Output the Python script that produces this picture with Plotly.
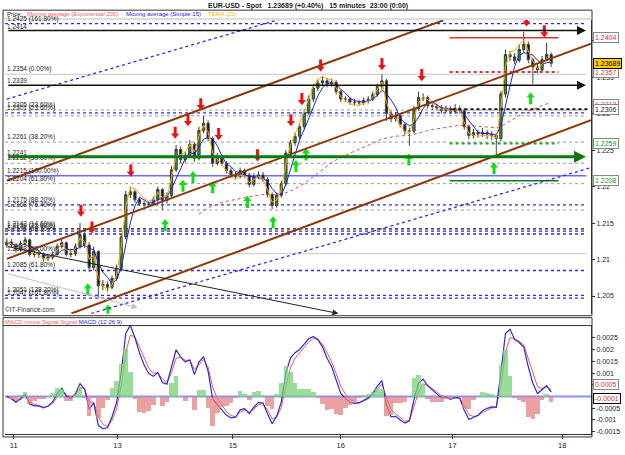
import numpy as np
import pandas as pd
import plotly.graph_objects as go

# ---------------- data ----------------
# hourly bars (hours since chart start), EUR-USD 15-minute chart read at hourly resolution
close = [1.2124, 1.2120, 1.2114, 1.2122, 1.2127, 1.2107, 1.2108, 1.2107, 1.2101, 1.2103,
         1.2107, 1.2118, 1.2123, 1.2107, 1.2108, 1.2118, 1.2134, 1.2120, 1.2089, 1.2111,
         1.2064, 1.2066, 1.2062, 1.2074, 1.2088, 1.2131, 1.2189, 1.2193, 1.2182, 1.2177,
         1.2176, 1.2176, 1.2182, 1.2196, 1.2181, 1.2188, 1.2223, 1.2251, 1.2237, 1.2243,
         1.2258, 1.2239, 1.2277, 1.2287, 1.2266, 1.2232, 1.2239, 1.2232, 1.2222, 1.2216,
         1.2214, 1.2222, 1.2216, 1.2203, 1.2214, 1.2216, 1.2210, 1.2189, 1.2174, 1.2188,
         1.2204, 1.2246, 1.2260, 1.2269, 1.2282, 1.2301, 1.2320, 1.2335, 1.2342, 1.2345,
         1.2341, 1.2343, 1.2330, 1.2320, 1.2320, 1.2316, 1.2315, 1.2315, 1.2318, 1.2320,
         1.2326, 1.2337, 1.2345, 1.2300, 1.2293, 1.2297, 1.2285, 1.2276, 1.2276, 1.2307,
         1.2322, 1.2322, 1.2311, 1.2310, 1.2308, 1.2304, 1.2307, 1.2303, 1.2307, 1.2304,
         1.2282, 1.2270, 1.2274, 1.2272, 1.2274, 1.2272, 1.2270, 1.2266, 1.2327, 1.2381,
         1.2378, 1.2373, 1.2388, 1.2395, 1.2374, 1.2364, 1.2360, 1.2374, 1.2381, 1.2369]
high = [1.2129, 1.2128, 1.2123, 1.2126, 1.2131, 1.2129, 1.2113, 1.2112, 1.2110, 1.2107,
        1.2111, 1.2122, 1.2128, 1.2125, 1.2113, 1.2122, 1.2150, 1.2138, 1.2124, 1.2118,
        1.2113, 1.2072, 1.2070, 1.2078, 1.2093, 1.2135, 1.2194, 1.2200, 1.2196, 1.2186,
        1.2181, 1.2180, 1.2186, 1.2200, 1.2198, 1.2192, 1.2228, 1.2257, 1.2255, 1.2248,
        1.2264, 1.2261, 1.2282, 1.2297, 1.2291, 1.2269, 1.2246, 1.2243, 1.2235, 1.2226,
        1.2220, 1.2226, 1.2225, 1.2219, 1.2218, 1.2221, 1.2220, 1.2213, 1.2192, 1.2192,
        1.2208, 1.2250, 1.2264, 1.2274, 1.2287, 1.2306, 1.2325, 1.2340, 1.2347, 1.2351,
        1.2349, 1.2348, 1.2346, 1.2333, 1.2324, 1.2323, 1.2320, 1.2319, 1.2322, 1.2324,
        1.2330, 1.2341, 1.2354, 1.2348, 1.2304, 1.2302, 1.2300, 1.2288, 1.2281, 1.2311,
        1.2330, 1.2328, 1.2325, 1.2315, 1.2314, 1.2312, 1.2311, 1.2310, 1.2313, 1.2311,
        1.2307, 1.2285, 1.2279, 1.2278, 1.2280, 1.2278, 1.2276, 1.2274, 1.2331, 1.2388,
        1.2386, 1.2383, 1.2395, 1.2412, 1.2399, 1.2377, 1.2368, 1.2379, 1.2397, 1.2384]
low = [1.2116, 1.2116, 1.2110, 1.2111, 1.2119, 1.2104, 1.2103, 1.2102, 1.2097, 1.2098,
       1.2100, 1.2105, 1.2115, 1.2104, 1.2103, 1.2105, 1.2115, 1.2116, 1.2083, 1.2085,
       1.2047, 1.2058, 1.2056, 1.2059, 1.2071, 1.2085, 1.2128, 1.2184, 1.2178, 1.2173,
       1.2172, 1.2172, 1.2173, 1.2179, 1.2168, 1.2177, 1.2185, 1.2220, 1.2232, 1.2233,
       1.2240, 1.2234, 1.2236, 1.2273, 1.2262, 1.2227, 1.2229, 1.2228, 1.2218, 1.2212,
       1.2210, 1.2211, 1.2212, 1.2199, 1.2200, 1.2210, 1.2206, 1.2185, 1.2169, 1.2171,
       1.2185, 1.2201, 1.2242, 1.2256, 1.2265, 1.2278, 1.2298, 1.2316, 1.2331, 1.2338,
       1.2336, 1.2337, 1.2326, 1.2316, 1.2316, 1.2312, 1.2311, 1.2311, 1.2312, 1.2314,
       1.2317, 1.2323, 1.2333, 1.2290, 1.2288, 1.2289, 1.2281, 1.2271, 1.2256, 1.2273,
       1.2304, 1.2317, 1.2307, 1.2305, 1.2304, 1.2300, 1.2301, 1.2299, 1.2300, 1.2300,
       1.2278, 1.2265, 1.2266, 1.2267, 1.2268, 1.2265, 1.2264, 1.2242, 1.2262, 1.2322,
       1.2372, 1.2368, 1.2370, 1.2384, 1.2369, 1.2341, 1.2355, 1.2357, 1.2372, 1.2364]
first_open = 1.2120
hours = list(range(len(close)))

day_labels = ['11', '13', '15', '16', '17', '18']
day_hours = [1.5, 24.2, 49.4, 73.0, 97.4, 121.4]

price_ticks = [1.205, 1.21, 1.215, 1.22, 1.225, 1.23, 1.235, 1.24]
price_tick_text = ['1.205', '1.21', '1.215', '1.22', '1.225', '1.23', '1.235', '1.24']
macd_ticks = [-0.0015, -0.001, -0.0005, 0.0005, 0.001, 0.0015, 0.002, 0.0025]
macd_tick_text = ['-0.0015', '-0.001', '-0.0005', '0.0005', '0.001', '0.0015', '0.002', '0.0025']

# Fibonacci / level lines (price, label)
fib_prices = [1.24235, 1.2354, 1.2305, 1.2301, 1.2297, 1.2261, 1.2232, 1.2215, 1.2204,
              1.2175, 1.2168, 1.2142, 1.2139, 1.2135, 1.2108, 1.2085, 1.2051, 1.2047]
fib_labels = ['1.2425 (161.80%)', '1.2354 (0.00%)', '1.2305 (23.60%)', '1.2301 (23.60%)', '',
              '1.2261 (38.20%)', '1.2232 (50.00%)', '1.2215 (100.00%)', '1.2204 (61.80%)',
              '1.2175 (88.20%)', '1.2168 (76.40%)', '1.2142 (14.60%)', '1.2139 (23.60%)',
              '1.2135 (38.20%)', '1.2108 (50.00%)', '1.2085 (61.80%)', '1.2051 (138.20%)',
              '1.2047 (161.80%)']
fib_kind = ['bluedot', 'greysolid', 'greydot', 'bluedot', 'greydot', 'greydot', 'greydot',
            'bluesolid', 'greydot', 'bluedot', 'greydot', 'blackdot', 'bluedot', 'bluedot',
            'greysolid', 'bluedot', 'bluedot', 'bluedot']

# arrowed horizontal levels
arrow_prices = [1.2414, 1.2339, 1.2241]
arrow_labels = ['1.2414', '1.2339', '1.2241']

# short right-hand levels (start hour, end hour, price)
seg_t0 = [96.8, 96.8, 97.4, 96.8, 96.8]
seg_t1 = [120.6, 120.6, 127.0, 120.6, 120.6]
seg_p = [1.2404, 1.2357, 1.2306, 1.2259, 1.2208]

# trend lines (t0, p0, t1, p1)
trend_t0 = [0.0, 18.4, 0.0, 0.0, 14.1]
trend_p0 = [1.2320, 1.2026, 1.2208, 1.2101, 1.2026]
trend_t1 = [60.0, 127.7, 95.4, 127.7, 127.7]
trend_p1 = [1.2430, 1.2226, 1.2428, 1.2396, 1.2291]
trend_kind = ['bluedot', 'bluedot', 'brown', 'brown', 'brown']

diag_t0 = [0.0, 0.0]
diag_p0 = [1.2118, 1.2081]
diag_t1 = [72.5, 28.6]
diag_p1 = [1.2026, 1.2034]

# signal arrows (time, price of arrow tip)
sell_t = [16.2, 18.6, 27.1, 36.8, 39.6, 42.4, 46.3, 54.8, 62.1, 64.5, 68.6, 82.0, 90.7, 113.6, 117.5]
sell_p = [1.2160, 1.2137, 1.2215, 1.2267, 1.2284, 1.2306, 1.2265, 1.2236, 1.2284, 1.2313,
          1.2359, 1.2361, 1.2346, 1.2421, 1.2406]
buy_t = [17.7, 22.1, 34.6, 38.5, 40.7, 45.0, 52.6, 58.2, 63.2, 65.4, 87.9, 106.5, 114.5]
buy_p = [1.2066, 1.2037, 1.2154, 1.2208, 1.2220, 1.2206, 1.2186, 1.2158, 1.2235, 1.2251,
         1.2244, 1.2232, 1.2328]

box_prices = [1.2404, 1.2357, 1.2313, 1.2306, 1.2259, 1.2208, 1.23689]
box_texts = ['1.2404', '1.2357', '1.2313', '1.2306', '1.2259', '1.2208', '1.23689']

# ---------------- indicators ----------------
s = pd.Series(close)
sma15 = s.rolling(4, min_periods=1).mean()
e1 = s.ewm(span=5, adjust=False).mean()
e2 = e1.ewm(span=5, adjust=False).mean()
e3 = e2.ewm(span=5, adjust=False).mean()
tema = 3 * e1 - 3 * e2 + e3
ema200 = s.ewm(span=50, adjust=False).mean()
macd = s.ewm(span=3, adjust=False).mean() - s.ewm(span=6.5, adjust=False).mean()
signal = macd.ewm(span=2.15, adjust=False).mean()
hist = macd - signal
opens = [first_open] + close[:-1]

# ---------------- figure ----------------
H, W = 455, 625
MT, MB = 20, 15
PH = H - MT - MB
PPX = 7400.0  # price-axis pixels per price unit (used only for arrow glyph offsets)


def py(ypx):
    return (H - MB - ypx) / PH


def px(xpx):
    return (xpx - 5) / 590


fig = go.Figure()

styles = {
    'bluedot': dict(color='#2a2aee', width=1.3, dash='dot'),
    'greydot': dict(color='#9a9a9a', width=1, dash='dot'),
    'blackdot': dict(color='#111111', width=1.3, dash='dot'),
    'greysolid': dict(color='#c8c8c8', width=1, dash='solid'),
    'bluesolid': dict(color='#6a6aff', width=1.5, dash='solid'),
    'brown': dict(color='#8b3a0e', width=2, dash='solid'),
}

shapes = []
for p, k in zip(fib_prices, fib_kind):
    shapes.append(dict(type='line', xref='paper', yref='y', x0=0, x1=0.992, y0=p, y1=p,
                       line=styles[k], layer='below'))

seg_styles = [dict(color='#e03030', width=1.5), dict(color='#e03030', width=2, dash='dot'),
              dict(color='#111111', width=2, dash='dot'), dict(color='#2a9a2a', width=2, dash='dot'),
              dict(color='#117711', width=1.5)]
for a, b, p, st in zip(seg_t0, seg_t1, seg_p, seg_styles):
    shapes.append(dict(type='line', xref='x', yref='y', x0=a, x1=b, y0=p, y1=p, line=st))

for a, pa, b, pb, k in zip(trend_t0, trend_p0, trend_t1, trend_p1, trend_kind):
    shapes.append(dict(type='line', xref='x', yref='y', x0=a, x1=b, y0=pa, y1=pb, line=styles[k]))

# MACD zero line
shapes.append(dict(type='line', xref='paper', yref='y2', x0=0, x1=1, y0=0, y1=0,
                   line=dict(color='#8f8fff', width=2), layer='below'))

# frames
shapes += [
    dict(type='rect', xref='paper', yref='paper', x0=px(3), x1=px(596), y0=py(320), y1=py(10),
         line=dict(color='#333', width=1)),
    dict(type='line', xref='paper', yref='paper', x0=px(3), x1=px(596), y0=py(19), y1=py(19),
         line=dict(color='#bbb', width=1)),
    dict(type='rect', xref='paper', yref='paper', x0=px(3), x1=px(596), y0=py(443), y1=py(322),
         line=dict(color='#333', width=1)),
    dict(type='line', xref='paper', yref='paper', x0=px(3), x1=px(596), y0=py(330), y1=py(330),
         line=dict(color='#333', width=1)),
]

# candles
fig.add_trace(go.Candlestick(x=hours, open=opens, high=high, low=low, close=close,
                             xaxis='x', yaxis='y',
                             increasing=dict(line=dict(color='#3a3a3a', width=1), fillcolor='#2e9a2e'),
                             decreasing=dict(line=dict(color='#4a4a4a', width=1), fillcolor='#111111'),
                             whiskerwidth=0, showlegend=False, hoverinfo='skip'))
fig.add_trace(go.Scatter(x=hours[42:], y=ema200[42:], mode='lines', xaxis='x', yaxis='y',
                         line=dict(color='#d84a4a', width=1, dash='dot'), showlegend=False))
fig.add_trace(go.Scatter(x=hours, y=sma15, mode='lines', xaxis='x', yaxis='y',
                         line=dict(color='#2020ee', width=1), showlegend=False))
fig.add_trace(go.Scatter(x=hours, y=tema, mode='lines', xaxis='x', yaxis='y',
                         line=dict(color='#ffaa00', width=1), showlegend=False))

# block arrows: head + stem
sell_head = [p + 2.5 / PPX for p in sell_p]
sell_stem = [p + 7 / PPX for p in sell_p]
buy_head = [p - 2.5 / PPX for p in buy_p]
buy_stem = [p - 7 / PPX for p in buy_p]
fig.add_trace(go.Scatter(x=sell_t, y=sell_stem, mode='markers', xaxis='x', yaxis='y',
                         marker=dict(symbol='line-ns', size=6, line=dict(color='#ee1111', width=3)),
                         showlegend=False))
fig.add_trace(go.Scatter(x=sell_t, y=sell_head, mode='markers', xaxis='x', yaxis='y',
                         marker=dict(symbol='triangle-down', size=7, color='#ee1111'), showlegend=False))
fig.add_trace(go.Scatter(x=buy_t, y=buy_stem, mode='markers', xaxis='x', yaxis='y',
                         marker=dict(symbol='line-ns', size=6, line=dict(color='#11dd11', width=3)),
                         showlegend=False))
fig.add_trace(go.Scatter(x=buy_t, y=buy_head, mode='markers', xaxis='x', yaxis='y',
                         marker=dict(symbol='triangle-up', size=7, color='#11dd11'), showlegend=False))

# MACD panel
hcol = ['rgba(120,210,120,0.75)' if v >= 0 else 'rgba(230,130,130,0.75)' for v in hist]
fig.add_trace(go.Bar(x=hours, y=hist, xaxis='x', yaxis='y3', marker=dict(color=hcol, line=dict(width=0)),
                     width=1.0, showlegend=False))
fig.add_trace(go.Scatter(x=hours, y=signal, mode='lines', xaxis='x', yaxis='y2',
                         line=dict(color='#ee5555', width=1), showlegend=False))
fig.add_trace(go.Scatter(x=hours, y=macd, mode='lines', xaxis='x', yaxis='y2',
                         line=dict(color='#2b2bdd', width=1.2), showlegend=False))

ann = []
tfont = dict(family='Arial, Liberation Sans', size=6.5, color='#222')
for p, lab in zip(fib_prices, fib_labels):
    if lab:
        ann.append(dict(xref='paper', yref='y', x=0.0, y=p, text=lab, showarrow=False,
                        xanchor='left', yanchor='bottom', font=tfont, yshift=-1))
for p, lab in zip(arrow_prices, arrow_labels):
    ann.append(dict(xref='paper', yref='y', x=0.0, y=p, text=lab, showarrow=False,
                    xanchor='left', yanchor='bottom', font=tfont, yshift=-1))

arrow_styles = [('#111111', 1.5), ('#111111', 1.5), ('#0b7a0b', 3)]
for p, (c, w) in zip(arrow_prices, arrow_styles):
    ann.append(dict(x=126.6, y=p, ax=0, ay=p, xref='x', yref='y', axref='x', ayref='y', text='',
                    showarrow=True, arrowhead=2, arrowsize=1.2 if w < 2 else 0.8, arrowwidth=w, arrowcolor=c))
diag_styles = [('#222222', 1), ('#c0c0c0', 1)]
for a, pa, b, pb, (c, w) in zip(diag_t0, diag_p0, diag_t1, diag_p1, diag_styles):
    ann.append(dict(x=b, y=pb, ax=a, ay=pa, xref='x', yref='y', axref='x', ayref='y', text='',
                    showarrow=True, arrowhead=2, arrowsize=1.2, arrowwidth=w, arrowcolor=c))

box_styles = [('#e03030', 'white', '#888'), ('#e03030', 'white', '#888'), ('#e05050', 'white', '#888'),
              ('#222', 'white', '#888'), ('#229922', 'white', '#888'), ('#229922', 'white', '#888'),
              ('#000', '#ffcc00', '#000')]
for p, t, (fc, bg, bc) in zip(box_prices, box_texts, box_styles):
    ann.append(dict(xref='paper', yref='y', x=1.004, y=p, text=t, showarrow=False, xanchor='left',
                    yanchor='middle', bgcolor=bg, bordercolor=bc, borderwidth=1, borderpad=1,
                    font=dict(family='Arial', size=7, color=fc)))
ann.append(dict(xref='paper', yref='y2', x=1.004, y=0.0005, text='0.0005', showarrow=False, xanchor='left',
                yanchor='middle', bgcolor='white', bordercolor='#888', borderwidth=1, borderpad=1,
                font=dict(family='Arial', size=7, color='#e03030')))
ann.append(dict(xref='paper', yref='y2', x=1.004, y=-0.0001, text='-0.0001', showarrow=False, xanchor='left',
                yanchor='middle', bgcolor='white', bordercolor='#000', borderwidth=1, borderpad=1,
                font=dict(family='Arial', size=7, color='#e03030')))

# titles / headers
ann.append(dict(xref='paper', yref='paper', x=px(310), y=py(5.5),
                text='<b>EUR-USD - Spot   1.23689 (+0.40%)   15 minutes  23:00 (0:00)</b>',
                showarrow=False, xanchor='center', yanchor='middle',
                font=dict(family='Arial', size=7, color='#222')))
hdr = [(5, 'Price', '#222'), (25, 'Moving average (Exponential 200)', '#f06060'),
       (125, 'Moving average (Simple 15)', '#2020ee'), (207, 'TEMA (21)', '#f0b800')]
for x0, t, c in hdr:
    ann.append(dict(xref='paper', yref='paper', x=px(x0), y=py(14), text=t, showarrow=False,
                    xanchor='left', yanchor='middle', font=dict(family='Arial', size=6, color=c)))
ann.append(dict(xref='paper', yref='paper', x=px(3), y=py(326), showarrow=False, xanchor='left', yanchor='middle',
                text='<span style="color:#f06060">MACD minus Signal Signal </span><span style="color:#2020ee">MACD (12 26 9)</span>',
                font=dict(family='Arial', size=6)))
ann.append(dict(xref='paper', yref='paper', x=px(3), y=py(314), text='©IT-Finance.com', showarrow=False,
                xanchor='left', yanchor='middle', font=dict(family='Arial', size=6.5, color='#333')))

yr = [1.20257, 1.24284]
y2r = [-0.0016, 0.00303]
fig.update_layout(
    width=W, height=H, margin=dict(l=5, r=30, t=MT, b=MB),
    paper_bgcolor='white', plot_bgcolor='white', showlegend=False, bargap=0,
    xaxis=dict(domain=[0, 1], range=[-0.4, 127.7], anchor='y2', tickvals=day_hours, ticktext=day_labels,
               ticks='outside', ticklen=4, tickcolor='#333', tickfont=dict(family='Arial', size=7.5, color='#222'),
               showgrid=False, zeroline=False, showline=True, linecolor='#333', rangeslider=dict(visible=False)),
    yaxis=dict(domain=[py(318), 1.0], range=yr, side='right', anchor='x', tickvals=price_ticks,
               ticktext=price_tick_text, ticks='outside', ticklen=3, tickcolor='#333',
               tickfont=dict(family='Arial', size=7, color='#222'), showgrid=False, zeroline=False,
               showline=True, linecolor='#333'),
    yaxis2=dict(domain=[0, py(330)], range=y2r, side='right', anchor='x', tickvals=macd_ticks,
                ticktext=macd_tick_text, ticks='outside', ticklen=3, tickcolor='#333',
                tickfont=dict(family='Arial', size=7, color='#222'), showgrid=False, zeroline=False,
                showline=True, linecolor='#333'),
    yaxis3=dict(overlaying='y2', range=[y2r[0] / 2.5, y2r[1] / 2.5], visible=False, anchor='x'),
    shapes=shapes, annotations=ann,
)

fig.write_html('out.html')
